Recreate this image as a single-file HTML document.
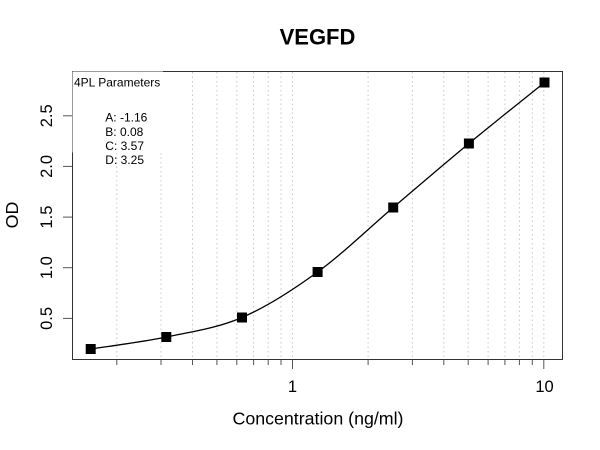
<!DOCTYPE html>
<html>
<head>
<meta charset="utf-8">
<style>
  html,body{margin:0;padding:0;background:#fff;}
  svg{display:block;}
  text{font-family:"Liberation Sans",Arial,sans-serif;fill:#000;}
</style>
</head>
<body>
<svg width="600" height="450" viewBox="0 0 600 450" xmlns="http://www.w3.org/2000/svg">
  <rect x="0" y="0" width="600" height="450" fill="#fff"/>

  <!-- vertical dotted grid lines -->
  <g stroke="#c8c8c8" stroke-width="1" stroke-dasharray="1.5,3">
    <line x1="116.8" y1="72" x2="116.8" y2="359"/>
    <line x1="161.0" y1="72" x2="161.0" y2="359"/>
    <line x1="192.5" y1="72" x2="192.5" y2="359"/>
    <line x1="216.9" y1="72" x2="216.9" y2="359"/>
    <line x1="236.8" y1="72" x2="236.8" y2="359"/>
    <line x1="253.6" y1="72" x2="253.6" y2="359"/>
    <line x1="268.2" y1="72" x2="268.2" y2="359"/>
    <line x1="281.0" y1="72" x2="281.0" y2="359"/>
    <line x1="292.5" y1="72" x2="292.5" y2="359"/>
    <line x1="368.1" y1="72" x2="368.1" y2="359"/>
    <line x1="412.4" y1="72" x2="412.4" y2="359"/>
    <line x1="443.8" y1="72" x2="443.8" y2="359"/>
    <line x1="468.2" y1="72" x2="468.2" y2="359"/>
    <line x1="488.1" y1="72" x2="488.1" y2="359"/>
    <line x1="504.9" y1="72" x2="504.9" y2="359"/>
    <line x1="519.4" y1="72" x2="519.4" y2="359"/>
    <line x1="532.3" y1="72" x2="532.3" y2="359"/>
    <line x1="543.8" y1="72" x2="543.8" y2="359"/>
  </g>

  <!-- plot box -->
  <rect x="72.5" y="71.5" width="490" height="288" fill="none" stroke="#333" stroke-width="1"/>

  <!-- legend background (partially overlaps border) -->
  <rect x="72.5" y="71.5" width="90.5" height="81" fill="#fff"/>

  <!-- x axis ticks -->
  <g stroke="#555" stroke-width="1">
    <line x1="116.8" y1="360" x2="116.8" y2="365"/>
    <line x1="161.0" y1="360" x2="161.0" y2="365"/>
    <line x1="192.5" y1="360" x2="192.5" y2="365"/>
    <line x1="216.9" y1="360" x2="216.9" y2="365"/>
    <line x1="236.8" y1="360" x2="236.8" y2="365"/>
    <line x1="253.6" y1="360" x2="253.6" y2="365"/>
    <line x1="268.2" y1="360" x2="268.2" y2="365"/>
    <line x1="281.0" y1="360" x2="281.0" y2="365"/>
    <line x1="292.5" y1="360" x2="292.5" y2="369"/>
    <line x1="368.1" y1="360" x2="368.1" y2="365"/>
    <line x1="412.4" y1="360" x2="412.4" y2="365"/>
    <line x1="443.8" y1="360" x2="443.8" y2="365"/>
    <line x1="468.2" y1="360" x2="468.2" y2="365"/>
    <line x1="488.1" y1="360" x2="488.1" y2="365"/>
    <line x1="504.9" y1="360" x2="504.9" y2="365"/>
    <line x1="519.4" y1="360" x2="519.4" y2="365"/>
    <line x1="532.3" y1="360" x2="532.3" y2="365"/>
    <line x1="543.8" y1="360" x2="543.8" y2="369"/>
  </g>

  <!-- y axis ticks -->
  <g stroke="#555" stroke-width="1">
    <line x1="63" y1="318.4" x2="72" y2="318.4"/>
    <line x1="63" y1="267.7" x2="72" y2="267.7"/>
    <line x1="63" y1="217.1" x2="72" y2="217.1"/>
    <line x1="63" y1="166.4" x2="72" y2="166.4"/>
    <line x1="63" y1="115.8" x2="72" y2="115.8"/>
  </g>

  <!-- x tick labels -->
  <text x="292.5" y="392" font-size="16.5" text-anchor="middle">1</text>
  <text x="544.5" y="392" font-size="16.5" text-anchor="middle">10</text>

  <!-- y tick labels (rotated) -->
  <g font-size="16.5" text-anchor="middle">
    <text x="52" y="318.4" transform="rotate(-90 52 318.4)">0.5</text>
    <text x="52" y="267.7" transform="rotate(-90 52 267.7)">1.0</text>
    <text x="52" y="217.1" transform="rotate(-90 52 217.1)">1.5</text>
    <text x="52" y="166.4" transform="rotate(-90 52 166.4)">2.0</text>
    <text x="52" y="115.8" transform="rotate(-90 52 115.8)">2.5</text>
  </g>

  <!-- axis titles -->
  <text x="318" y="424.3" font-size="17.8" text-anchor="middle">Concentration (ng/ml)</text>
  <text x="18" y="215" font-size="17.8" text-anchor="middle" transform="rotate(-90 18 215)">OD</text>

  <!-- title -->
  <text x="317.5" y="44.3" font-size="22" font-weight="bold" text-anchor="middle">VEGFD</text>

  <!-- legend text -->
  <text x="74" y="86.5" font-size="12">4PL Parameters</text>
  <g font-size="12">
    <text x="105.3" y="121.7">A: -1.16</text>
    <text x="105.3" y="135.8">B: 0.08</text>
    <text x="105.3" y="149.9">C: 3.57</text>
    <text x="105.3" y="164">D: 3.25</text>
  </g>

  <!-- fitted curve -->
  <path d="M90.7,349 C103.3,347 141.1,342.25 166.3,337
           C191.5,331.75 216.8,328.33 242,317.5
           C267.2,306.67 292.4,290.33 317.6,272
           C342.8,253.67 368,228.92 393.2,207.5
           C418.4,186.08 443.7,164.33 468.9,143.5
           C494.1,122.67 531.9,92.67 544.5,82.5"
        fill="none" stroke="#000" stroke-width="1.3"/>

  <!-- data points -->
  <g fill="#000">
    <rect x="85.7" y="344" width="10" height="10"/>
    <rect x="161.3" y="332" width="10" height="10"/>
    <rect x="237" y="312.5" width="10" height="10"/>
    <rect x="312.6" y="267" width="10" height="10"/>
    <rect x="388.2" y="202.5" width="10" height="10"/>
    <rect x="463.9" y="138.5" width="10" height="10"/>
    <rect x="539.5" y="77.5" width="10" height="10"/>
  </g>
</svg>
</body>
</html>
